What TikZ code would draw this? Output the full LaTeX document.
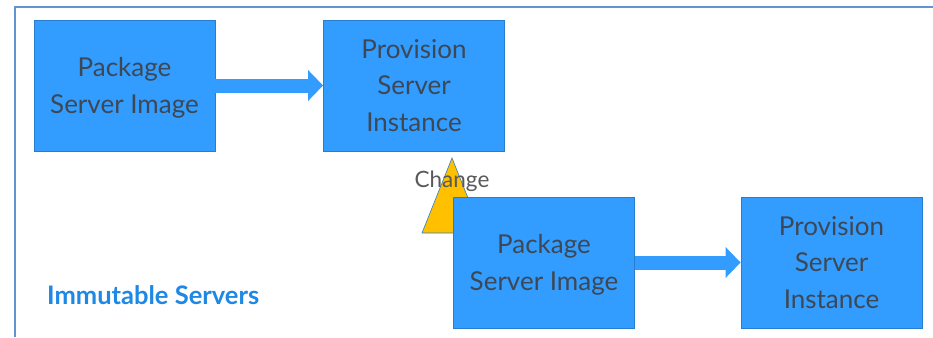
\documentclass[tikz,border=0pt]{standalone}
\usepackage{fontspec}
\setmainfont{Lato}
\usetikzlibrary{arrows.meta}
\definecolor{boxfill}{RGB}{51,156,255}
\definecolor{boxline}{RGB}{40,125,205}
\definecolor{boxtext}{RGB}{62,72,84}
\definecolor{framecol}{RGB}{96,150,205}
\definecolor{warn}{RGB}{255,192,0}
\definecolor{titleblue}{RGB}{30,136,229}
\tikzset{
  stepbox/.style={draw=boxline, fill=boxfill, line width=0.8pt,
    minimum width=181pt, minimum height=131pt, inner sep=0pt,
    align=center, text=boxtext, font=\fontsize{26}{36.5}\selectfont},
  pkgbox/.style={stepbox, text depth=0pt},
  flow/.style={draw=boxfill, line width=14pt,
    -{Triangle[length=15pt,width=30pt]}},
}
\begin{document}
\begin{tikzpicture}[x=1pt,y=-1pt]
  \useasboundingbox (0,0) rectangle (933,337);
  % outer frame (top and left edges)
  \draw[framecol, line width=1.5pt] (15,337) -- (15,7) -- (933,7);

  % first pipeline
  \node[pkgbox] (pkg1) at (124.5,85.5) {Package\\Server Image};
  \node[stepbox] (prov1) at (414,85.5) {Provision\\Server\\Instance};
  \draw[flow] (pkg1.east) -- (prov1.west);

  % change marker, sitting behind the second package box
  \coordinate (tapex) at (452,158);
  \coordinate (tleft) at (422,233);
  \coordinate (tright) at (482,233);
  \draw[draw=boxline, fill=warn, line width=0.6pt] (tapex) -- (tleft) -- (tright) -- cycle;

  % second pipeline
  \node[pkgbox] (pkg2) at (544,262.5) {Package\\Server Image};
  \node[stepbox] (prov2) at (831.5,262.5) {Provision\\Server\\Instance};
  \draw[flow] (pkg2.east) -- (prov2.west);

  \node[text=black!65, font=\fontsize{22.5}{24}\selectfont, inner sep=0pt] (chg) at (452,181) {Change};

  \node[text=titleblue, font=\bfseries\fontsize{25.5}{28}\selectfont, inner sep=0pt, anchor=west] (title) at (47,295) {Immutable Servers};
\end{tikzpicture}
\end{document}
